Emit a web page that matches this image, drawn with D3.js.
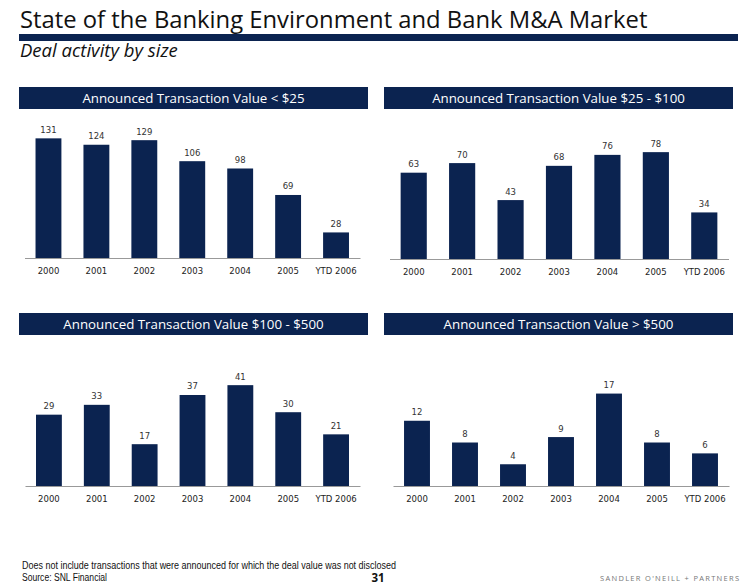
<!DOCTYPE html>
<html>
<head>
<meta charset="utf-8">
<script src="https://cdn.jsdelivr.net/npm/d3@7"></script>
<style>
  html, body { margin: 0; padding: 0; background: #fff; }
  svg { display: block; }
</style>
</head>
<body>
<svg id="chart" width="756" height="587"></svg>
<script>
// ---- data ----
const categories = ["2000", "2001", "2002", "2003", "2004", "2005", "YTD 2006"];
const panelTitles = [
  "Announced Transaction Value < $25",
  "Announced Transaction Value $25 - $100",
  "Announced Transaction Value $100 - $500",
  "Announced Transaction Value > $500"
];
const valuesUnder25 = [131, 124, 129, 106, 98, 69, 28];
const values25to100 = [63, 70, 43, 68, 76, 78, 34];
const values100to500 = [29, 33, 17, 37, 41, 30, 21];
const valuesOver500 = [12, 8, 4, 9, 17, 8, 6];
const axisMax = [150, 100, 55.7, 25.2];

const navy = "#0b2350";
const svg = d3.select("#chart");

// ---- header ----
svg.append("text").attr("x", 20).attr("y", 28)
  .attr("font-family", "Open Sans").attr("font-size", 23.8).attr("fill", "#111")
  .text("State of the Banking Environment and Bank M&A Market");
svg.append("rect").attr("x", 19).attr("y", 34).attr("width", 719).attr("height", 7).attr("fill", navy);
svg.append("text").attr("x", 20).attr("y", 57)
  .attr("font-family", "Open Sans").attr("font-style", "italic").attr("font-size", 18.5).attr("fill", "#111")
  .text("Deal activity by size");

// ---- panels ----
const panels = [
  {values: valuesUnder25, title: panelTitles[0], hx: 19, hy: 87, x0: 24.5, x1: 360, base: 258, max: axisMax[0]},
  {values: values25to100, title: panelTitles[1], hx: 384, hy: 87, x0: 389.5, x1: 728.5, base: 259, max: axisMax[1]},
  {values: values100to500, title: panelTitles[2], hx: 19, hy: 313, x0: 25, x1: 360, base: 486, max: axisMax[2]},
  {values: valuesOver500, title: panelTitles[3], hx: 384, hy: 313, x0: 393, x1: 729, base: 486, max: axisMax[3]}
];
const plotH = 137;

panels.forEach(p => {
  const g = svg.append("g");
  g.append("rect").attr("x", p.hx).attr("y", p.hy).attr("width", 349).attr("height", 22).attr("fill", navy);
  g.append("text").attr("x", p.hx + 174.5).attr("y", p.hy + 15.5)
    .attr("text-anchor", "middle").attr("font-family", "Open Sans").attr("font-size", 13.3)
    .attr("fill", "#fff").text(p.title);

  const x = d3.scaleBand().domain(categories).range([p.x0, p.x1]).paddingInner(0.46).paddingOuter(0.23);
  const y = d3.scaleLinear().domain([0, p.max]).range([p.base, p.base - plotH]);

  g.selectAll("rect.bar").data(p.values).join("rect").attr("class", "bar")
    .attr("x", (d, i) => x(categories[i])).attr("width", x.bandwidth())
    .attr("y", d => y(d)).attr("height", d => y(0) - y(d)).attr("fill", navy);

  g.selectAll("text.val").data(p.values).join("text").attr("class", "val")
    .attr("x", (d, i) => x(categories[i]) + x.bandwidth() / 2).attr("y", d => y(d) - 5.5)
    .attr("text-anchor", "middle").attr("font-family", "DejaVu Sans").attr("font-size", 8.5)
    .attr("fill", "#333").text(d => d);

  const axis = d3.axisBottom(x).tickSize(0).tickPadding(10);
  const ax = g.append("g").attr("transform", `translate(0,${p.base})`).call(axis);
  ax.select(".domain").attr("stroke", "#999").attr("stroke-width", 1.2);
  ax.selectAll("text").attr("font-family", "DejaVu Sans").attr("font-size", 8.5).attr("fill", "#222");
});

// ---- footer ----
svg.append("text").attr("x", 22).attr("y", 569)
  .attr("font-family", "Liberation Sans").attr("font-size", 10).attr("fill", "#111")
  .attr("textLength", 374).attr("lengthAdjust", "spacingAndGlyphs")
  .text("Does not include transactions that were announced for which the deal value was not disclosed");
svg.append("text").attr("x", 22).attr("y", 580.5)
  .attr("font-family", "Liberation Sans").attr("font-size", 10).attr("fill", "#111")
  .attr("textLength", 85).attr("lengthAdjust", "spacingAndGlyphs")
  .text("Source: SNL Financial");
svg.append("text").attr("x", 378).attr("y", 582).attr("text-anchor", "middle")
  .attr("font-family", "Open Sans").attr("font-weight", "bold").attr("font-size", 11.5).attr("fill", "#111")
  .text("31");
svg.append("text").attr("x", 600).attr("y", 581)
  .attr("font-family", "Open Sans").attr("font-size", 7.5).attr("fill", "#777")
  .attr("letter-spacing", 1.3)
  .text("SANDLER O'NEILL + PARTNERS");
</script>
</body>
</html>
